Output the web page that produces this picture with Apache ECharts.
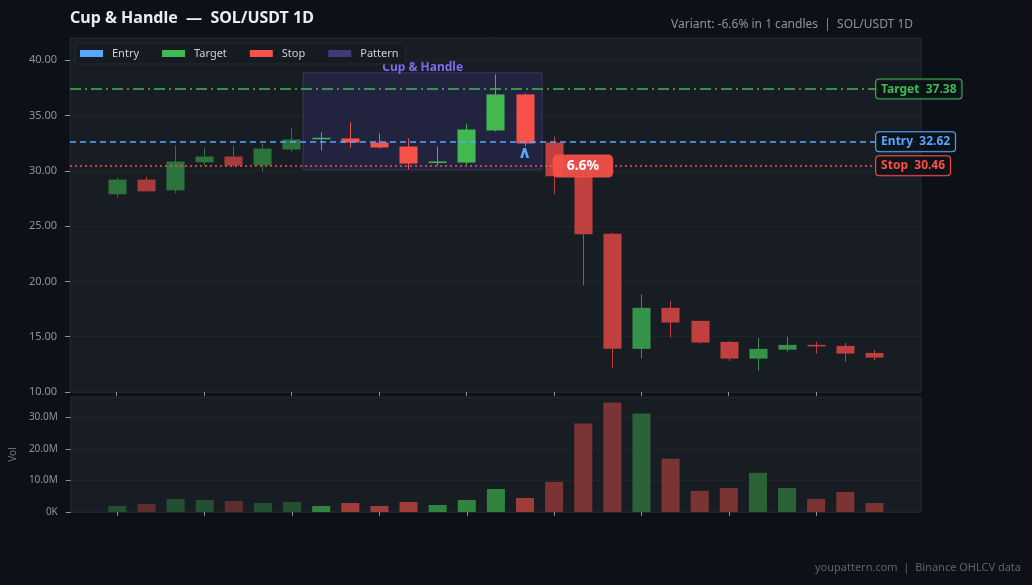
<!DOCTYPE html>
<html>
<head>
<meta charset="utf-8">
<script src="https://cdn.jsdelivr.net/npm/echarts@6/dist/echarts.min.js"></script>
<style>
  html, body { margin: 0; padding: 0; background: #0d1017; }
  #chart { width: 1032px; height: 585px; }
</style>
</head>
<body>
<div id="chart"></div>
<script>
// daily candles, index 0..26
const opens  = [27.87, 29.20, 28.23, 30.77, 31.29, 30.50, 31.92, 32.86, 32.92, 32.55, 32.19, 30.76, 30.74, 33.64, 36.90, 32.55, 29.50, 24.31, 13.90, 17.61, 16.43, 14.53, 13.02, 13.83, 14.26, 14.17, 13.53];
const closes = [29.20, 28.14, 30.83, 31.29, 30.47, 32.01, 32.83, 32.98, 32.55, 32.10, 30.65, 30.84, 33.73, 36.90, 32.46, 29.50, 24.25, 13.90, 17.61, 16.28, 14.47, 13.02, 13.90, 14.26, 14.12, 13.47, 13.11];
const lows   = [27.57, 28.05, 27.96, 30.47, 30.32, 29.93, 31.74, 31.83, 32.10, 32.01, 30.11, 30.47, 30.56, 33.55, 32.19, 27.87, 19.63, 12.20, 13.02, 14.92, 14.37, 12.81, 11.93, 13.65, 13.47, 12.74, 12.84];
const highs  = [29.38, 29.47, 32.28, 32.10, 32.28, 32.46, 33.82, 33.46, 34.37, 33.37, 32.92, 32.19, 34.18, 38.71, 36.99, 33.10, 29.90, 24.40, 18.81, 18.24, 16.45, 14.62, 14.89, 14.98, 14.53, 14.44, 13.80];
const volumes = [1.9e6, 2.55e6, 4.14e6, 3.82e6, 3.5e6, 2.86e6, 3.18e6, 1.9e6, 2.86e6, 1.9e6, 3.18e6, 2.23e6, 3.82e6, 7.3e6, 4.45e6, 9.55e6, 28.0e6, 34.7e6, 31.2e6, 16.9e6, 6.7e6, 7.6e6, 12.4e6, 7.6e6, 4.14e6, 6.36e6, 2.86e6];

// pattern span (candle indices) and trade levels
const patternRange = [7, 14];
const levelNames  = ['Target', 'Entry', 'Stop'];
const levelValues = [37.38, 32.62, 30.46];
const entryIndex = 14;
const entryMarkerPrice = 31.6;
const moveIndex = 16;
const moveLabelPrice = 30.42;
const movePct = 6.6;

const FONT = '"Noto Sans", "Open Sans", sans-serif';
const X_MIN = -1.6, X_MAX = 27.6;
const LABEL_X = 26.06;

const levelColors = { Target: '#3fb950', Entry: '#58a6ff', Stop: '#f85149' };
const levelDash = { Target: [11, 4, 2, 4], Entry: [6, 4], Stop: [2, 3] };

function phase(i) {
  if (i < patternRange[0]) return 'pre';
  if (i <= patternRange[1]) return 'pat';
  return 'post';
}
const candleCols = {
  pre:  { up: '#2c743c', down: '#a63c3c' },
  pat:  { up: '#3fb950', down: '#f85149' },
  post: { up: '#35944a', down: '#c0403f' }
};
const volCols = {
  pre:  { up: '#244f32', down: '#5e2d30' },
  pat:  { up: '#2f8540', down: '#a03c3a' },
  post: { up: '#2b6238', down: '#7b3434' }
};

const candleData = opens.map((o, i) => [i, o, closes[i], lows[i], highs[i]]);
const volData = volumes.map((v, i) => [i, v, closes[i] >= opens[i] ? 1 : 0]);

function renderCandle(params, api) {
  const i = api.value(0);
  const o = api.value(1), c = api.value(2), l = api.value(3), h = api.value(4);
  const up = c >= o;
  const color = candleCols[phase(i)][up ? 'up' : 'down'];
  const px = api.coord([i, o]);
  const x = Math.round(px[0]) + 0.5;
  const yo = px[1];
  const yc = api.coord([i, c])[1];
  const yl = api.coord([i, l])[1];
  const yh = api.coord([i, h])[1];
  const w = api.size([1, 0])[0] * 0.62;
  const top = Math.min(yo, yc);
  const ht = Math.max(Math.abs(yo - yc), 1.5);
  return {
    type: 'group',
    children: [
      { type: 'line', shape: { x1: x, y1: yh, x2: x, y2: yl }, style: { stroke: color, lineWidth: 1 } },
      { type: 'rect', shape: { x: x - w / 2, y: top, width: w, height: ht }, style: { fill: color } }
    ]
  };
}

function renderVol(params, api) {
  const i = api.value(0);
  const v = api.value(1);
  const up = api.value(2) === 1;
  const p1 = api.coord([i, v]);
  const p0 = api.coord([i, 0]);
  const w = api.size([1, 0])[0] * 0.62;
  return {
    type: 'rect',
    shape: { x: p1[0] - w / 2, y: p1[1], width: w, height: p0[1] - p1[1] },
    style: { fill: volCols[phase(i)][up ? 'up' : 'down'] }
  };
}

const patHigh = Math.max(...highs.slice(patternRange[0], patternRange[1] + 1)) + 0.15;
const patLow = Math.min(...lows.slice(patternRange[0], patternRange[1] + 1)) - 0.02;

const chart = echarts.init(document.getElementById('chart'));

const axisLabelStyle = { color: '#8b949e', fontSize: 11, fontFamily: FONT };
const tickTicks = [0, 3, 6, 9, 12, 15, 18, 21, 24];

const option = {
  backgroundColor: '#0d1017',
  animation: false,
  title: [
    { text: 'Cup & Handle  —  SOL/USDT 1D', left: 65, top: 5,
      textStyle: { color: '#e6edf3', fontSize: 16, fontWeight: 'bold', fontFamily: FONT } },
    { text: 'Variant: -6.6% in 1 candles  |  SOL/USDT 1D', right: 114, top: 14,
      textStyle: { color: '#8b949e', fontSize: 12, fontWeight: 'normal', fontFamily: FONT } },
    { text: 'youpattern.com  |  Binance OHLCV data', right: 6, top: 557,
      textStyle: { color: '#5c636c', fontSize: 11, fontWeight: 'normal', fontFamily: FONT } }
  ],
  legend: {
    data: ['Entry', 'Target', 'Stop', 'Pattern'],
    left: 75, top: 43, z: 2,
    icon: 'rect', itemWidth: 23, itemHeight: 7, itemGap: 23,
    padding: [5, 7, 5, 5],
    backgroundColor: '#161a21', borderColor: '#262b33', borderWidth: 1, borderRadius: 3,
    textStyle: { color: '#c9d1d9', fontSize: 11, fontFamily: FONT, padding: [0, 0, 0, 4] },
    selectedMode: false
  },
  grid: [
    { left: 70, right: 111, top: 38, height: 354, show: true, backgroundColor: '#181c23', borderColor: '#242931', borderWidth: 1 },
    { left: 70, right: 111, top: 397, height: 115, show: true, backgroundColor: '#181c23', borderColor: '#242931', borderWidth: 1 }
  ],
  xAxis: [
    { type: 'value', gridIndex: 0, min: X_MIN, max: X_MAX,
      axisLine: { show: false, onZero: false }, splitLine: { show: false }, axisLabel: { show: false },
      axisTick: { show: true, length: 4, lineStyle: { color: '#8b949e' }, customValues: tickTicks } },
    { type: 'value', gridIndex: 1, min: X_MIN, max: X_MAX,
      axisLine: { show: false, onZero: false }, splitLine: { show: false }, axisLabel: { show: false },
      axisTick: { show: true, length: 4, lineStyle: { color: '#8b949e' }, customValues: tickTicks } }
  ],
  yAxis: [
    { type: 'value', gridIndex: 0, min: 10, max: 42, interval: 5,
      axisLine: { show: false, onZero: false },
      axisTick: { show: true, length: 5, lineStyle: { color: '#8b949e' } },
      axisLabel: Object.assign({ formatter: v => v.toFixed(2), margin: 13, showMaxLabel: false }, axisLabelStyle),
      splitLine: { lineStyle: { color: '#20252c', width: 1 } } },
    { type: 'value', gridIndex: 1, min: 0, max: Math.max(...volumes) * 1.05, interval: 1e7,
      name: 'Vol', nameLocation: 'middle', nameGap: 50, nameRotate: 90,
      nameTextStyle: { color: '#6e7681', fontSize: 10, fontFamily: FONT },
      axisLine: { show: false, onZero: false },
      axisTick: { show: true, length: 5, lineStyle: { color: '#8b949e' } },
      axisLabel: Object.assign({ formatter: v => v === 0 ? '0K' : (v / 1e6).toFixed(1) + 'M', margin: 13, showMaxLabel: false }, axisLabelStyle, { fontSize: 10 }),
      splitLine: { lineStyle: { color: '#20252c', width: 1 } } }
  ],
  series: [
    {
      name: 'Candles', type: 'custom', xAxisIndex: 0, yAxisIndex: 0,
      renderItem: renderCandle,
      encode: { x: 0, y: [1, 2, 3, 4] },
      data: candleData,
      z: 3,
      markArea: {
        silent: true,
        itemStyle: { color: 'rgba(58,56,130,0.30)', borderColor: 'rgba(86,82,170,0.45)', borderWidth: 1 },
        label: { show: true, position: 'top', distance: -1, color: '#7b6cf0', fontWeight: 'bold', fontSize: 12, fontFamily: FONT },
        data: [[
          { name: 'Cup & Handle', coord: [patternRange[0] - 0.6, patHigh] },
          { coord: [patternRange[1] + 0.6, patLow] }
        ]]
      },
      markLine: {
        silent: true, symbol: ['none', 'none'], animation: false,
        label: { show: false },
        data: levelNames.map((n, k) => [
          { coord: [X_MIN, levelValues[k]], lineStyle: { color: levelColors[n], type: levelDash[n], width: 1.5 } },
          { coord: [X_MAX, levelValues[k]] }
        ])
      },
      markPoint: {
        silent: true, animation: false,
        data: levelNames.map((n, k) => ({
          coord: [LABEL_X, levelValues[k]],
          symbol: 'circle', symbolSize: 0,
          label: {
            show: true, position: 'right', distance: 0,
            formatter: n + '  ' + levelValues[k].toFixed(2),
            color: levelColors[n], fontWeight: 'bold', fontSize: 12, fontFamily: FONT,
            backgroundColor: 'rgba(13,17,23,0.85)', borderColor: levelColors[n], borderWidth: 1, borderRadius: 3,
            padding: [4, 5, 3, 5]
          }
        })).concat([
          {
            coord: [moveIndex, moveLabelPrice], symbol: 'circle', symbolSize: 0,
            label: {
              show: true, position: 'inside', formatter: movePct.toFixed(1) + '%',
              color: '#ffffff', fontWeight: 'bold', fontSize: 14, fontFamily: FONT,
              backgroundColor: 'rgba(248,81,73,0.93)', borderRadius: 5, padding: [5, 14, 4, 14]
            }
          },
          {
            coord: [entryIndex, entryMarkerPrice],
            symbol: 'path://M0,10 L3.5,0 L6.5,0 L10,10 L7,10 L5,4 L3,10 Z', symbolSize: [9, 10],
            itemStyle: { color: '#58a6ff' }, label: { show: false }
          }
        ])
      }
    },
    {
      name: 'Volume', type: 'custom', xAxisIndex: 1, yAxisIndex: 1,
      renderItem: renderVol,
      encode: { x: 0, y: 1 },
      data: volData
    },
    { name: 'Entry', type: 'line', data: [], itemStyle: { color: '#58a6ff' } },
    { name: 'Target', type: 'line', data: [], itemStyle: { color: '#3fb950' } },
    { name: 'Stop', type: 'line', data: [], itemStyle: { color: '#f85149' } },
    { name: 'Pattern', type: 'line', data: [], itemStyle: { color: '#3d3a7a' } }
  ]
};

chart.setOption(option);
</script>
</body>
</html>
